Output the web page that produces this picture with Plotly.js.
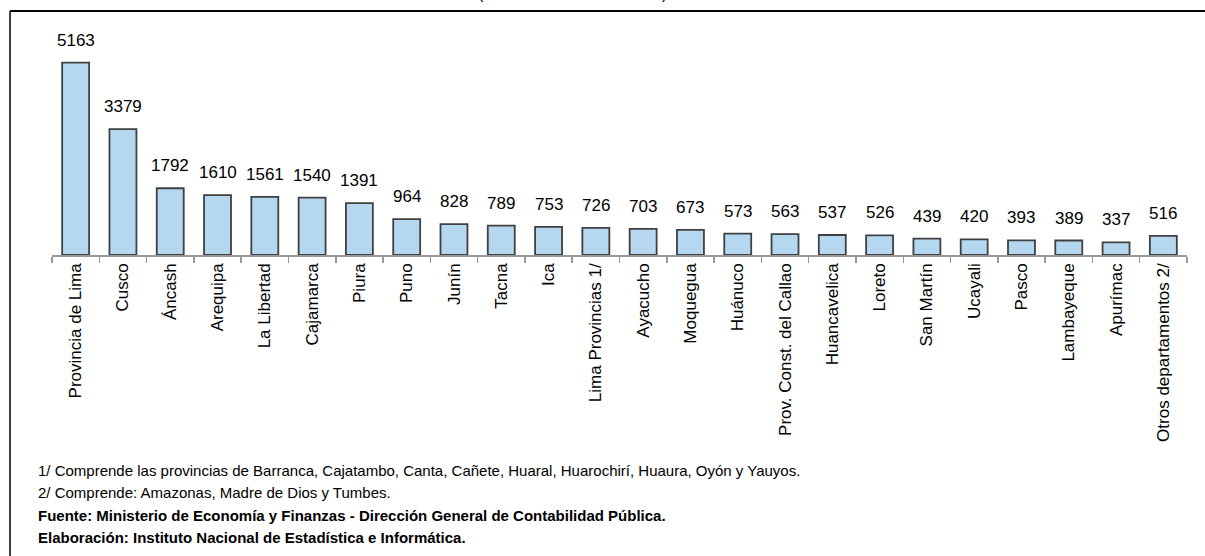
<!DOCTYPE html>
<html>
<head>
<meta charset="utf-8">
<script src="https://cdn.plot.ly/plotly-3.0.1.min.js"></script>
<style>html,body{margin:0;padding:0;background:#fff;}#chart{width:1205px;height:556px;}</style>
</head>
<body>
<div id="chart"></div>
<script>
const categories = ["Provincia de Lima","Cusco","Áncash","Arequipa","La Libertad","Cajamarca","Piura","Puno","Junín","Tacna","Ica","Lima Provincias 1/","Ayacucho","Moquegua","Huánuco","Prov. Const. del Callao","Huancavelica","Loreto","San Martín","Ucayali","Pasco","Lambayeque","Apurímac","Otros departamentos 2/"];
const values = [5163,3379,1792,1610,1561,1540,1391,964,828,789,753,726,703,673,573,563,537,526,439,420,393,389,337,516];
const titleText = "(Millones de nuevos soles)";
const footnotes = [
  "1/ Comprende las provincias de Barranca, Cajatambo, Canta, Cañete, Huaral, Huarochirí, Huaura, Oyón y Yauyos.",
  "2/ Comprende: Amazonas, Madre de Dios y Tumbes.",
  "<b>Fuente: Ministerio de Economía y Finanzas - Dirección General de Contabilidad Pública.</b>",
  "<b>Elaboración: Instituto Nacional de Estadística e Informática.</b>"
];

const W = 1205, H = 556;
const mL = 52, mR = 18, mT = 20, mB = 301;
const pw = W - mL - mR, ph = H - mT - mB;
const px = x => (x - mL) / pw;          // pixel x -> paper
const py = y => 1 - (y - mT) / ph;      // pixel y -> paper
const FONT = "Liberation Sans, Arial, sans-serif";

const annotations = values.map((v, i) => ({
  x: categories[i], y: v, xref: 'x', yref: 'y',
  text: String(v), showarrow: false, yanchor: 'bottom', yshift: 11,
  font: {family: FONT, size: 17, color: '#000'}
}));
annotations.push({
  xref: 'paper', yref: 'paper', x: px(572), y: py(4), xanchor: 'center', yanchor: 'bottom',
  text: titleText, showarrow: false, font: {family: FONT, size: 16, color: '#000'}
});
const fy = [470, 492.5, 515, 537.5];
footnotes.forEach((t, i) => annotations.push({
  xref: 'paper', yref: 'paper', x: px(36), y: py(fy[i]), xanchor: 'left', yanchor: 'middle',
  text: t, showarrow: false, font: {family: "Liberation Sans Narrow, Arial Narrow, " + FONT, size: 15, color: '#000'}
}));

const shapes = [
  {type: 'line', xref: 'paper', yref: 'paper', x0: px(10), x1: px(1215), y0: py(11), y1: py(11), line: {color: '#000', width: 2}},
  {type: 'line', xref: 'paper', yref: 'paper', x0: px(10), x1: px(10), y0: py(11), y1: py(570), line: {color: '#000', width: 1.5}}
];

const trace = {
  type: 'bar', x: categories, y: values,
  marker: {color: '#B5D8F0', line: {color: '#404040', width: 1.8}},
  hoverinfo: 'x+y'
};

const layout = {
  width: W, height: H,
  margin: {l: mL, r: mR, t: mT, b: mB, pad: 0},
  paper_bgcolor: '#fff', plot_bgcolor: '#fff',
  showlegend: false, bargap: 0.43,
  xaxis: {
    type: 'category', tickangle: -90, tickson: 'boundaries',
    ticks: 'outside', ticklen: 6, tickwidth: 1.5, tickcolor: '#999',
    showline: true, linecolor: '#999', linewidth: 1.5, showgrid: false,
    tickfont: {family: FONT, size: 17, color: '#000'}, automargin: false
  },
  yaxis: {range: [0, 6309], visible: false, showgrid: false, zeroline: false},
  annotations: annotations, shapes: shapes
};

Plotly.newPlot('chart', [trace], layout, {displayModeBar: false, staticPlot: true});
</script>
</body>
</html>
